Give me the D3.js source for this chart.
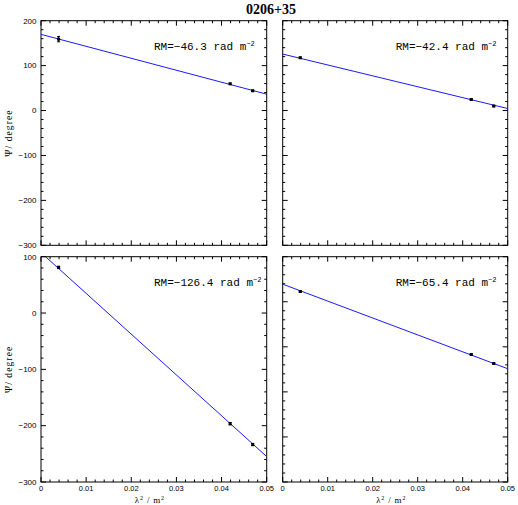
<!DOCTYPE html>
<html>
<head>
<meta charset="utf-8">
<script src="https://cdn.jsdelivr.net/npm/d3@7"></script>
<style>
  html, body { margin: 0; padding: 0; background: #fff; }
  svg { display: block; }
</style>
</head>
<body>
<svg id="chart" width="518" height="505"></svg>
<script>
// ---- data ----
const title = "0206+35";
const lambda2 = [0.0039, 0.0419, 0.0469];           // λ² / m²
const psiTopLeft     = [159, 59.5, 44];
const psiTopRight    = [117.5, 24.5, 10];
const psiBottomLeft  = [81, -196.5, -233.5];
const psiBottomRight = [22.7, -117, -137];
const errTopLeft     = [6, 1.5, 1.5];
const errTopRight    = [1.5, 1.5, 1.5];
const errBottomLeft  = [2, 2, 2];
const errBottomRight = [1.5, 1.5, 1.5];
const fitX = [0, 0.05];                              // fitted line ends
const fitTopLeft     = [169.6, 36.4];
const fitTopRight    = [125.7, 4.5];
const fitBottomLeft  = [107.3, -254.8];
const fitBottomRight = [39, -148.6];
const rmValues = ["−46.3", "−42.4", "−126.4", "−65.4"];
const xTickValues = [0, 0.01, 0.02, 0.03, 0.04, 0.05];
const xTickLabels = ["0", "0.01", "0.02", "0.03", "0.04", "0.05"];
const yDomainTop = [-300, 200];
const yDomainBottomLeft = [-300, 100];
const yDomainBottomRight = [-400, 100];
const xDomain = [0, 0.05];

// ---- layout ----
const svg = d3.select("#chart");
const colX = [[41, 266.7], [282.7, 507.7]];
const rowY = [[20.7, 245.3], [256.7, 482]];

const panels = [
  { col: 0, row: 0, psi: psiTopLeft, err: errTopLeft, fit: fitTopLeft, rm: rmValues[0], yDomain: yDomainTop },
  { col: 1, row: 0, psi: psiTopRight, err: errTopRight, fit: fitTopRight, rm: rmValues[1], yDomain: yDomainTop },
  { col: 0, row: 1, psi: psiBottomLeft, err: errBottomLeft, fit: fitBottomLeft, rm: rmValues[2], yDomain: yDomainBottomLeft },
  { col: 1, row: 1, psi: psiBottomRight, err: errBottomRight, fit: fitBottomRight, rm: rmValues[3], yDomain: yDomainBottomRight }
];

const tickFont = "'Liberation Sans', Arial, sans-serif";
const majorLen = 5, minorLen = 2.5;

svg.append("text")
  .attr("x", 271).attr("y", 13.5)
  .attr("text-anchor", "middle")
  .attr("font-family", "'Liberation Serif', 'Times New Roman', serif")
  .attr("font-weight", "bold")
  .attr("font-size", 14)
  .text(title);

panels.forEach((p, i) => {
  const x = d3.scaleLinear().domain(xDomain).range(colX[p.col]);
  const y = d3.scaleLinear().domain(p.yDomain).range([rowY[p.row][1], rowY[p.row][0]]);
  const g = svg.append("g");
  const x0 = colX[p.col][0], x1 = colX[p.col][1];
  const y0 = rowY[p.row][0], y1 = rowY[p.row][1];

  const clipId = "clip" + i;
  svg.append("clipPath").attr("id", clipId)
    .append("rect").attr("x", x0).attr("y", y0).attr("width", x1 - x0).attr("height", y1 - y0);

  // ticks (inside, all four sides)
  const xMinor = d3.range(0, 0.05 + 1e-9, 0.002);
  const xMajorSet = new Set(xTickValues.map(v => v.toFixed(3)));
  xMinor.forEach(v => {
    const len = xMajorSet.has(v.toFixed(3)) ? majorLen : minorLen;
    const px = x(v);
    g.append("line").attr("x1", px).attr("x2", px).attr("y1", y1).attr("y2", y1 - len)
      .attr("stroke", "#000").attr("stroke-width", 1);
    g.append("line").attr("x1", px).attr("x2", px).attr("y1", y0).attr("y2", y0 + len)
      .attr("stroke", "#000").attr("stroke-width", 1);
  });
  const yMinor = d3.range(p.yDomain[0], p.yDomain[1] + 1e-9, 20);
  yMinor.forEach(v => {
    const len = (Math.abs(v) % 100 === 0) ? majorLen : minorLen;
    const py = y(v);
    g.append("line").attr("x1", x0).attr("x2", x0 + len).attr("y1", py).attr("y2", py)
      .attr("stroke", "#000").attr("stroke-width", 1);
    g.append("line").attr("x1", x1).attr("x2", x1 - len).attr("y1", py).attr("y2", py)
      .attr("stroke", "#000").attr("stroke-width", 1);
  });

  // frame
  g.append("rect").attr("x", x0).attr("y", y0).attr("width", x1 - x0).attr("height", y1 - y0)
    .attr("fill", "none").attr("stroke", "#000").attr("stroke-width", 1);

  // y tick labels on left column
  if (p.col === 0) {
    const yMajors = d3.range(p.yDomain[0], p.yDomain[1] + 1e-9, 100);
    yMajors.forEach(v => {
      g.append("text")
        .attr("x", x0 - 4.5).attr("y", y(v))
        .attr("dy", "0.35em")
        .attr("text-anchor", "end")
        .attr("font-family", tickFont).attr("font-size", 8)
        .text(v < 0 ? "−" + Math.abs(v) : String(v));
    });
    g.append("text")
      .attr("transform", `translate(11.5,${(y0 + y1) / 2}) rotate(-90)`)
      .attr("text-anchor", "middle")
      .attr("font-family", "'Liberation Serif', serif")
      .attr("font-size", 9.5)
      .attr("letter-spacing", 1.1)
      .text("Ψ/ degree");
  }
  // x tick labels on bottom row
  if (p.row === 1) {
    xTickValues.forEach((v, k) => {
      g.append("text")
        .attr("x", x(v)).attr("y", y1 + 9)
        .attr("text-anchor", "middle")
        .attr("font-family", tickFont).attr("font-size", 7.5)
        .text(xTickLabels[k]);
    });
    const t = g.append("text")
      .attr("x", (x0 + x1) / 2 - 4).attr("y", 503)
      .attr("text-anchor", "middle")
      .attr("font-family", "'Liberation Serif', serif")
      .attr("font-size", 9)
      .attr("letter-spacing", 0.8);
    t.append("tspan").text("λ");
    t.append("tspan").attr("dy", -3).attr("font-size", 6).text("2");
    t.append("tspan").attr("dy", 3).text(" / m");
    t.append("tspan").attr("dy", -3).attr("font-size", 6).text("2");
  }

  // fit line
  const fitPts = fitX.map((v, k) => [v, p.fit[k]]);
  g.append("path")
    .attr("clip-path", `url(#${clipId})`)
    .attr("d", d3.line().x(d => x(d[0])).y(d => y(d[1]))(fitPts))
    .attr("fill", "none").attr("stroke", "#1a1aff").attr("stroke-width", 1);

  // data points with error bars
  lambda2.forEach((lv, k) => {
    const px = x(lv), py = y(p.psi[k]);
    const ya = y(p.psi[k] + p.err[k]), yb = y(p.psi[k] - p.err[k]);
    g.append("line").attr("x1", px).attr("x2", px).attr("y1", ya).attr("y2", yb)
      .attr("stroke", "#000").attr("stroke-width", 1);
    g.append("line").attr("x1", px - 1.5).attr("x2", px + 1.5).attr("y1", ya).attr("y2", ya)
      .attr("stroke", "#000").attr("stroke-width", 1);
    g.append("line").attr("x1", px - 1.5).attr("x2", px + 1.5).attr("y1", yb).attr("y2", yb)
      .attr("stroke", "#000").attr("stroke-width", 1);
    g.append("rect").attr("x", px - 1.5).attr("y", py - 1.5).attr("width", 3).attr("height", 3)
      .attr("fill", "#000");
  });

  // RM label
  const lab = g.append("text")
    .attr("x", x0 + 113).attr("y", y0 + 29.5)
    .attr("font-family", "'Liberation Mono', 'Courier New', monospace")
    .attr("font-size", 11);
  lab.append("tspan").text("RM=" + p.rm + " rad m");
  lab.append("tspan").attr("dy", -4).attr("font-size", 7).text("−2");
});
</script>
</body>
</html>
